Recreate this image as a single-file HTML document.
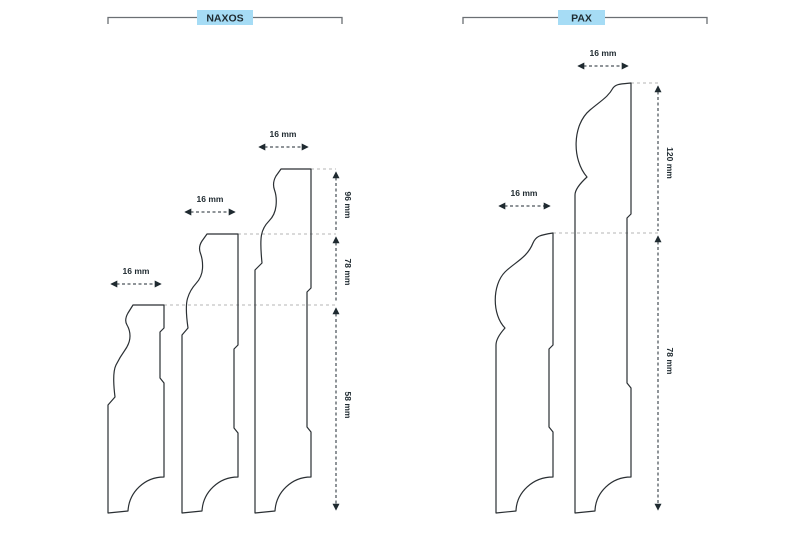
<!DOCTYPE html>
<html><head><meta charset="utf-8"><style>
html,body{margin:0;padding:0;background:#fff}
svg{display:block}
text{font-family:"Liberation Sans",sans-serif;font-weight:bold;fill:#1f2a30}
</style></head><body>
<svg width="800" height="550" viewBox="0 0 800 550" xmlns="http://www.w3.org/2000/svg">
<defs>
<marker id="ah" viewBox="0 0 10 10" refX="9" refY="5" markerWidth="7" markerHeight="7" orient="auto-start-reverse"><path d="M0,0 L10,5 L0,10 z" fill="#1f2a30"/></marker>
</defs>
<!-- headers -->
<g stroke="#6b6f73" stroke-width="1.3" fill="none">
<path d="M108,24 V17.5 H342 V24"/>
<path d="M463,24 V17.5 H707 V24"/>
</g>
<rect x="197" y="10" width="56" height="15" fill="#a6dcf5"/>
<text x="225" y="21.5" font-size="10.5" text-anchor="middle">NAXOS</text>
<rect x="558" y="10" width="47" height="15" fill="#a6dcf5"/>
<text x="581.5" y="21.5" font-size="10.5" text-anchor="middle">PAX</text>

<!-- guides -->
<g stroke="#b5b5b5" stroke-width="1" stroke-dasharray="3,3">
<path d="M311,169 H336 M238,234 H336 M164,305 H336"/>
<path d="M631,83 H658 M553,233 H658"/>
</g>

<!-- profiles -->
<g fill="none" stroke="#2a2f33" stroke-width="1.2" stroke-linejoin="round">
<path d="M108,513 L108,405 L115,397 Q112,373 116,365 Q120,357 125,350 Q130,343 130,336 Q130,330 127,325 Q124,320 128,313 L133,305 H164 V328 L160,332 V378 L164,383 V477 A36,36 0 0 0 128,511 Z"/>
<path d="M182,513 L182,335 L188,328 Q185,307 187.5,298.5 Q190,290 196,283.5 Q202,277 202.5,268.5 Q203,260 200.5,253.5 Q198,247 202,241 L207,234 H238 V345 L234,349 V428 L238,433 V477 A36,36 0 0 0 202,511 Z"/>
<path d="M255,513 L255,270 L262,263 Q260,243 261.5,235 Q263,227 269,221 Q275,215 276,206 Q277,197 274.5,190 Q272,183 276,176 L281,169 H311 V288 L307,292 V427 L311,432 V477 A36,36 0 0 0 275,511 Z"/>
<path d="M496,513 L496,345 Q496,338 505,328 C492,315 492,285 505,272 C515,262 527,258 533,243 C536,236 540,235 553,233 V345 L549,349 V427 L553,432 V477 A37,35 0 0 0 516,511 Z"/>
<path d="M575,513 L575,195 Q575,188 587,177 C572,160 572,125 590,110 C602,100 608,97 613,88 C616,84 620,84 631,83 V214 L627,218 V383 L631,388 V477 A36,35 0 0 0 595,511 Z"/>
</g>

<!-- dimension lines -->
<g stroke="#1f2a30" stroke-width="1" stroke-dasharray="3,2.5" fill="none">
<path d="M111,284 H161" marker-start="url(#ah)" marker-end="url(#ah)"/>
<path d="M185,212 H235" marker-start="url(#ah)" marker-end="url(#ah)"/>
<path d="M259,147 H308" marker-start="url(#ah)" marker-end="url(#ah)"/>
<path d="M499,206 H550" marker-start="url(#ah)" marker-end="url(#ah)"/>
<path d="M578,66 H628" marker-start="url(#ah)" marker-end="url(#ah)"/>
<path d="M336,172 V232" marker-start="url(#ah)"/>
<path d="M336,237 V303" marker-start="url(#ah)"/>
<path d="M336,308 V510" marker-start="url(#ah)" marker-end="url(#ah)"/>
<path d="M658,86 V231" marker-start="url(#ah)"/>
<path d="M658,236 V510" marker-start="url(#ah)" marker-end="url(#ah)"/>
</g>

<g font-size="8.5" text-anchor="middle">
<text x="136" y="274">16 mm</text>
<text x="210" y="202">16 mm</text>
<text x="283" y="137">16 mm</text>
<text x="524" y="196">16 mm</text>
<text x="603" y="56">16 mm</text>
<text transform="translate(345,205) rotate(90)">96 mm</text>
<text transform="translate(345,272) rotate(90)">78 mm</text>
<text transform="translate(345,405) rotate(90)">58 mm</text>
<text transform="translate(667,163) rotate(90)">120 mm</text>
<text transform="translate(667,361) rotate(90)">78 mm</text>
</g>
</svg>
</body></html>
